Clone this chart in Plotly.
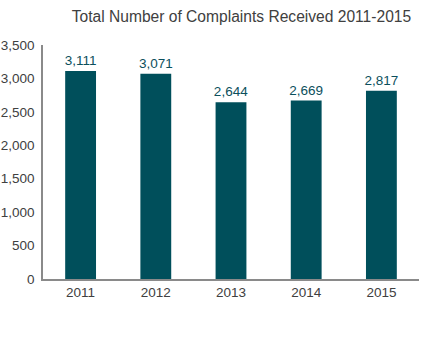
import plotly.graph_objects as go

years = ["2011", "2012", "2013", "2014", "2015"]
complaints = [3111, 3071, 2644, 2669, 2817]
labels = ["3,111", "3,071", "2,644", "2,669", "2,817"]
y_ticks = [0, 500, 1000, 1500, 2000, 2500, 3000, 3500]
y_tick_text = ["0", "500", "1,000", "1,500", "2,000", "2,500", "3,000", "3,500"]

fig = go.Figure(
    go.Bar(
        x=years,
        y=complaints,
        text=labels,
        textposition="outside",
        constraintext="none",
        textfont=dict(color="#0b4f5c", size=13.5),
        marker=dict(color="#004f5b", line=dict(width=0)),
        cliponaxis=False,
        hoverinfo="skip",
    )
)

fig.update_layout(
    width=439,
    height=338,
    margin=dict(l=43, r=20, t=45, b=59, autoexpand=False),
    paper_bgcolor="white",
    plot_bgcolor="white",
    font=dict(family="Liberation Sans, Arial, sans-serif", color="#404040", size=13.5),
    title=dict(
        text="Total Number of Complaints Received 2011-2015",
        x=0.55,
        xanchor="center",
        y=0.95,
        yanchor="middle",
        font=dict(size=15.6, color="#404040"),
    ),
    bargap=0.59,
    showlegend=False,
    xaxis=dict(
        automargin=False,
        showline=True,
        linecolor="#8a8a8a",
        linewidth=2,
        showgrid=False,
        ticks="",
        tickfont=dict(size=13.5, color="#404040"),
    ),
    yaxis=dict(
        automargin=False,
        range=[0, 3500],
        tickvals=y_ticks,
        ticktext=y_tick_text,
        showline=True,
        linecolor="#8a8a8a",
        linewidth=1.5,
        showgrid=False,
        zeroline=False,
        ticks="",
        ticklabelstandoff=4,
        tickfont=dict(size=13.5, color="#404040"),
    ),
)

fig.write_html("out.html")
